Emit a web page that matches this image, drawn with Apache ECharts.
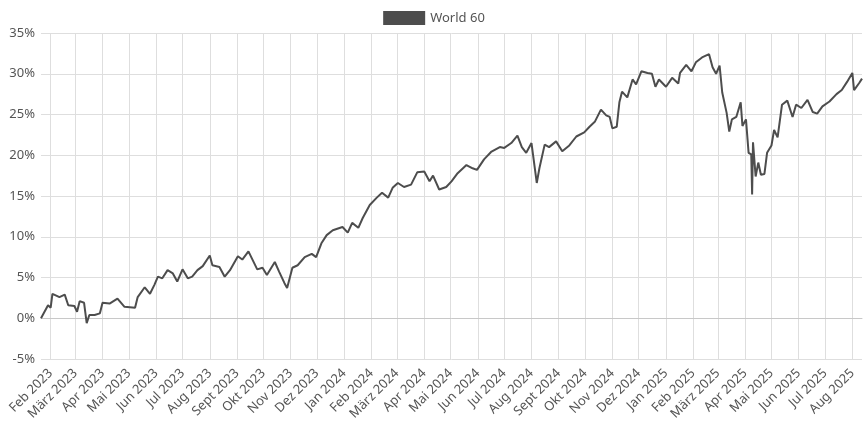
<!DOCTYPE html>
<html><head><meta charset="utf-8">
<script src="https://cdn.jsdelivr.net/npm/echarts@6/dist/echarts.min.js"></script>
<style>html,body{margin:0;padding:0;background:#fff}#c{width:868px;height:434px}</style>
</head><body><div id="c"></div>
<script>
const seriesName = 'World 60';
const monthNames = ['Jan','Feb','März','Apr','Mai','Jun','Jul','Aug','Sept','Okt','Nov','Dez'];
const yTicks = [-5,0,5,10,15,20,25,30,35];
const sampleDates = ['2023-01-21','2023-01-25','2023-01-29','2023-02-01','2023-02-03','2023-02-11','2023-02-17','2023-02-21','2023-02-28','2023-03-03','2023-03-06','2023-03-11','2023-03-14','2023-03-17','2023-03-23','2023-03-29','2023-04-01','2023-04-09','2023-04-18','2023-04-26','2023-05-08','2023-05-11','2023-05-19','2023-05-25','2023-05-30','2023-06-03','2023-06-08','2023-06-14','2023-06-20','2023-06-25','2023-07-01','2023-07-07','2023-07-12','2023-07-18','2023-07-24','2023-08-01','2023-08-04','2023-08-12','2023-08-18','2023-08-24','2023-09-02','2023-09-07','2023-09-14','2023-09-19','2023-09-24','2023-09-30','2023-10-05','2023-10-14','2023-10-19','2023-10-25','2023-10-28','2023-11-03','2023-11-09','2023-11-17','2023-11-25','2023-11-30','2023-12-06','2023-12-12','2023-12-19','2023-12-30','2024-01-05','2024-01-10','2024-01-17','2024-01-22','2024-01-30','2024-02-07','2024-02-13','2024-02-20','2024-02-25','2024-03-02','2024-03-09','2024-03-17','2024-03-24','2024-04-01','2024-04-07','2024-04-11','2024-04-18','2024-04-26','2024-05-02','2024-05-09','2024-05-19','2024-05-26','2024-05-31','2024-06-08','2024-06-16','2024-06-26','2024-07-01','2024-07-09','2024-07-16','2024-07-21','2024-07-26','2024-08-01','2024-08-07','2024-08-10','2024-08-16','2024-08-21','2024-08-29','2024-09-05','2024-09-13','2024-09-21','2024-09-30','2024-10-06','2024-10-12','2024-10-19','2024-10-25','2024-10-29','2024-11-01','2024-11-06','2024-11-09','2024-11-12','2024-11-18','2024-11-24','2024-11-28','2024-12-04','2024-12-11','2024-12-16','2024-12-20','2024-12-24','2025-01-01','2025-01-08','2025-01-15','2025-01-17','2025-01-24','2025-01-30','2025-02-04','2025-02-11','2025-02-19','2025-02-23','2025-02-27','2025-03-03','2025-03-06','2025-03-11','2025-03-14','2025-03-17','2025-03-22','2025-03-27','2025-03-29','2025-04-02','2025-04-05','2025-04-08','2025-04-09','2025-04-10','2025-04-13','2025-04-16','2025-04-19','2025-04-23','2025-04-26','2025-05-01','2025-05-04','2025-05-08','2025-05-13','2025-05-19','2025-05-25','2025-05-29','2025-06-04','2025-06-11','2025-06-17','2025-06-22','2025-06-28','2025-07-06','2025-07-14','2025-07-20','2025-07-26','2025-08-01','2025-08-03','2025-08-09','2025-08-12'];
const sampleValues = [0,0.8,1.6,1.3,3.0,2.6,2.9,1.6,1.5,0.8,2.1,1.9,-0.6,0.4,0.4,0.6,1.9,1.8,2.4,1.4,1.3,2.6,3.8,3.0,4.1,5.1,4.9,5.9,5.5,4.5,6.0,4.9,5.1,5.9,6.4,7.7,6.5,6.3,5.1,5.9,7.6,7.2,8.2,7.1,6.0,6.2,5.3,6.9,5.7,4.3,3.7,6.2,6.5,7.5,7.9,7.5,9.2,10.2,10.8,11.2,10.5,11.7,11.1,12.3,13.9,14.8,15.4,14.8,16.0,16.6,16.1,16.4,17.9,18.0,16.8,17.5,15.8,16.1,16.8,17.8,18.8,18.4,18.2,19.5,20.4,21.0,20.9,21.5,22.4,21.0,20.3,21.5,16.6,18.4,21.3,21.0,21.7,20.5,21.2,22.3,22.8,23.5,24.1,25.6,24.9,24.7,23.3,23.5,26.5,27.8,27.1,29.3,28.7,30.3,30.1,30.0,28.4,29.3,28.4,29.5,28.8,30.1,31.1,30.3,31.4,32.0,32.4,30.8,30.0,31.0,27.7,25.2,22.9,24.4,24.7,26.5,23.6,24.4,20.3,20.1,15.2,21.6,17.4,19.1,17.6,17.7,20.3,21.2,23.1,22.2,26.2,26.7,24.7,26.2,25.8,26.8,25.3,25.1,26.0,26.6,27.5,28.0,29.0,30.1,28.0,28.9,29.4];

const days = [], vals = [];
const map = {};
sampleDates.forEach((d,i)=>map[d]=sampleValues[i]);
let cur = new Date(sampleDates[0]+'T00:00:00Z');
const end = new Date(sampleDates[sampleDates.length-1]+'T00:00:00Z');
while (cur <= end) {
  const s = cur.toISOString().slice(0,10);
  days.push(s);
  vals.push(map.hasOwnProperty(s) ? map[s] : null);
  cur = new Date(cur.getTime()+86400000);
}
const isMonthStart = (i, v) => days[i].slice(8) === '01';
const fmt = v => monthNames[parseInt(v.slice(5,7))-1] + ' ' + v.slice(0,4);

const chart = echarts.init(document.getElementById('c'));
chart.setOption({
  animation:false,
  textStyle:{fontFamily:'Noto Sans'},
  legend:{top:6,left:'center',itemWidth:42,itemHeight:14,icon:'rect',
    textStyle:{color:'#555',fontSize:13},data:[seriesName]},
  grid:{left:41,right:6,top:33,bottom:75,containLabel:false},
  xAxis:{type:'category',data:days,boundaryGap:false,
    axisLine:{lineStyle:{color:'#c8c8c8'}},
    axisTick:{show:false},
    splitLine:{show:true,interval:isMonthStart,lineStyle:{color:'#dedede'}},
    axisLabel:{interval:isMonthStart,rotate:45,color:'#555',fontSize:13,formatter:fmt,margin:12}},
  yAxis:{type:'value',min:yTicks[0],max:yTicks[yTicks.length-1],interval:5,
    axisLine:{show:false},axisTick:{show:false},
    splitLine:{lineStyle:{color:'#dedede'}},
    axisLabel:{formatter:'{value}%',color:'#555',fontSize:13,margin:6}},
  series:[{name:seriesName,type:'line',data:vals,connectNulls:true,showSymbol:false,
    lineStyle:{color:'#4d4d4d',width:2},itemStyle:{color:'#4d4d4d'}}]
});
</script></body></html>
